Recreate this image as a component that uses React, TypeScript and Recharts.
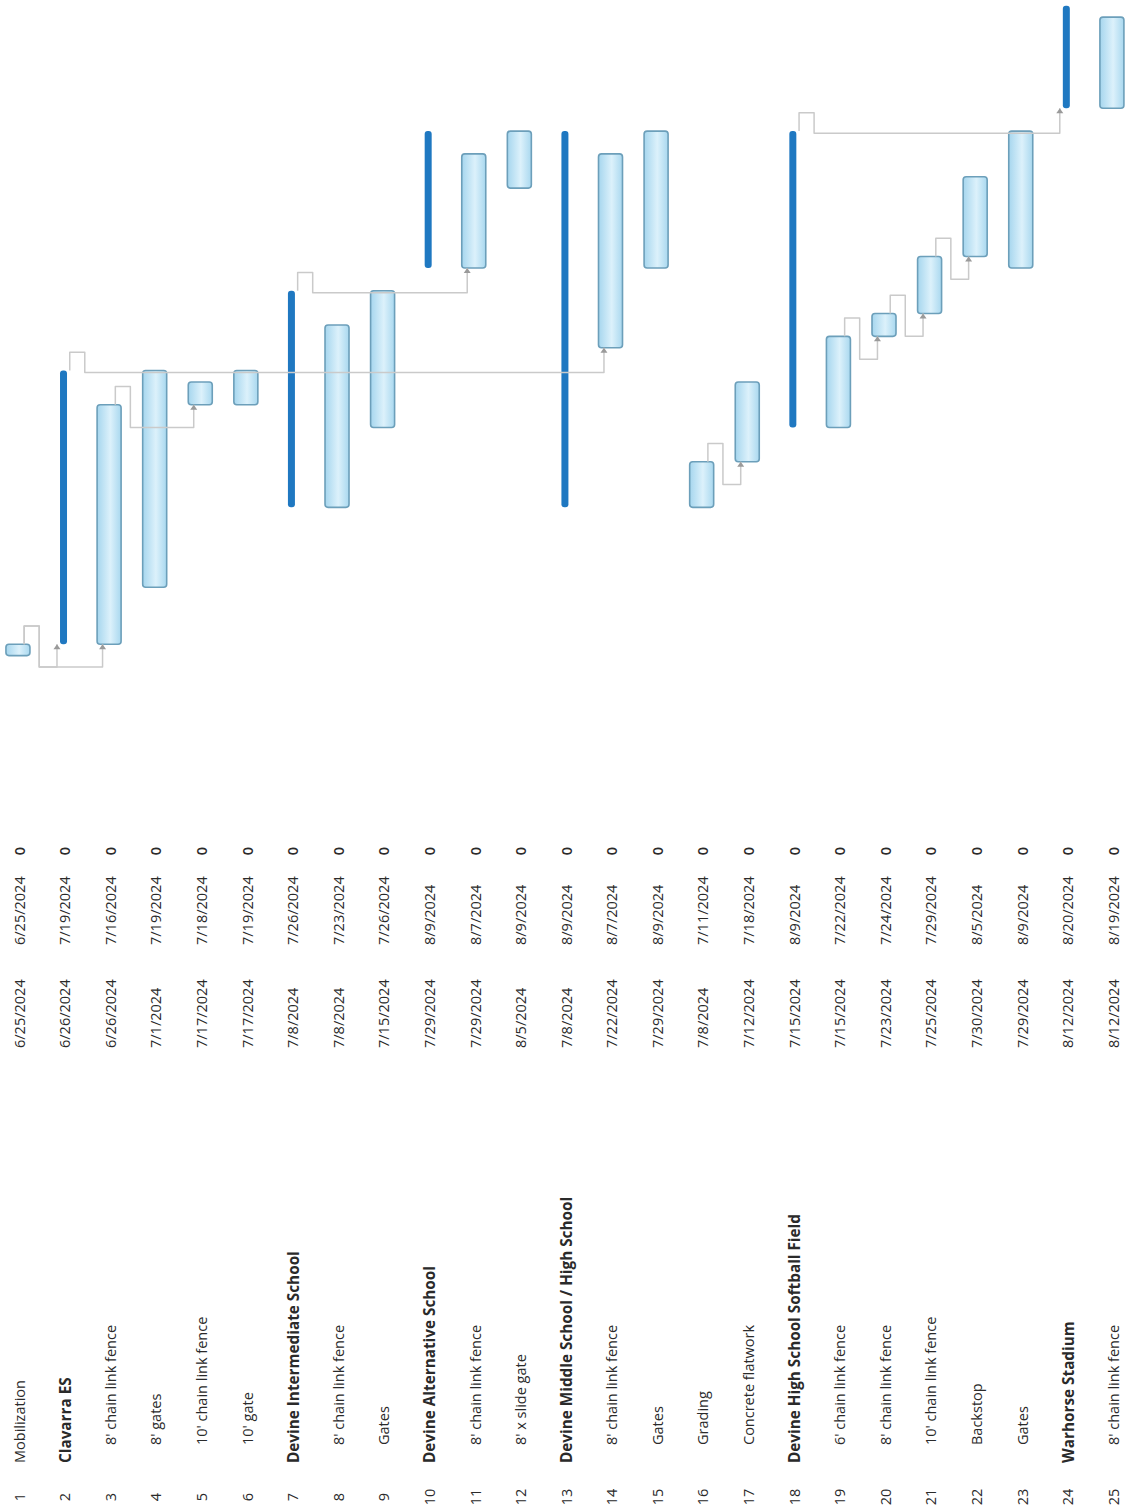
import React from "react"
import { ComposedChart, Bar, Line, XAxis, YAxis } from "recharts"

const W = 1135
const H = 1511
const TABLE_H = 730

const ids = [1, 2, 3, 4, 5, 6, 7, 8, 9, 10, 11, 12, 13, 14, 15, 16, 17, 18, 19, 20, 21, 22, 23, 24, 25]
const names = [
  "Mobilization",
  "Clavarra ES",
  "8' chain link fence",
  "8' gates",
  "10' chain link fence",
  "10' gate",
  "Devine Intermediate School",
  "8' chain link fence",
  "Gates",
  "Devine Alternative School",
  "8' chain link fence",
  "8' x slide gate",
  "Devine Middle School / High School",
  "8' chain link fence",
  "Gates",
  "Grading",
  "Concrete flatwork",
  "Devine High School Softball Field",
  "6' chain link fence",
  "8' chain link fence",
  "10' chain link fence",
  "Backstop",
  "Gates",
  "Warhorse Stadium",
  "8' chain link fence",
]
const starts = [
  "6/25/2024", "6/26/2024", "6/26/2024", "7/1/2024", "7/17/2024", "7/17/2024", "7/8/2024", "7/8/2024",
  "7/15/2024", "7/29/2024", "7/29/2024", "8/5/2024", "7/8/2024", "7/22/2024", "7/29/2024", "7/8/2024",
  "7/12/2024", "7/15/2024", "7/15/2024", "7/23/2024", "7/25/2024", "7/30/2024", "7/29/2024", "8/12/2024",
  "8/12/2024",
]
const finishes = [
  "6/25/2024", "7/19/2024", "7/16/2024", "7/19/2024", "7/18/2024", "7/19/2024", "7/26/2024", "7/23/2024",
  "7/26/2024", "8/9/2024", "8/7/2024", "8/9/2024", "8/9/2024", "8/7/2024", "8/9/2024", "7/11/2024",
  "7/18/2024", "8/9/2024", "7/22/2024", "7/24/2024", "7/29/2024", "8/5/2024", "8/9/2024", "8/20/2024",
  "8/19/2024",
]
const values = [0, 0, 0, 0, 0, 0, 0, 0, 0, 0, 0, 0, 0, 0, 0, 0, 0, 0, 0, 0, 0, 0, 0, 0, 0]
const summaryIds = [2, 7, 10, 13, 18, 24]
const topLevelIds = [1, 2, 7, 10, 13, 18, 24]
// finish-to-start links: [predecessor, successor]
const links = [
  [1, 2], [1, 3], [3, 5], [2, 14], [7, 11], [16, 17], [19, 20], [20, 21], [21, 22], [18, 24],
]

const BAR_STROKE = "#6c9fba"
const SUMMARY = "#1f78c1"
const LINK = "#cacaca"
const TEXT = "#2a2a2a"
const FONT = "'Open Sans', 'Noto Sans', sans-serif"

const dayOf = (s: string) => {
  const [m, d, y] = s.split("/").map(Number)
  return Math.round((Date.UTC(y, m - 1, d) - Date.UTC(2024, 5, 25)) / 86400000)
}

const rows = ids.map((id, i) => ({
  x: id,
  start: dayOf(starts[i]),
  end: dayOf(finishes[i]) + 1,
  range: [dayOf(starts[i]), dayOf(finishes[i]) + 1],
  summary: summaryIds.includes(id),
}))

const linkPaths = links.map(([p, s]) => {
  const pr = rows[p - 1]
  const sr = rows[s - 1]
  const yLine = Math.min(pr.end - 0.18, sr.start - 2)
  return [
    { x: p + 0.13, y: pr.end },
    { x: p + 0.13, y: pr.end + 1.6 },
    { x: p + 0.46, y: pr.end + 1.6 },
    { x: p + 0.46, y: yLine },
    { x: s - 0.15, y: yLine },
    { x: s - 0.15, y: sr.start },
  ]
})

function TaskShape(props: any) {
  const { x, y, width, height, payload } = props
  const top = Math.min(y, y + height)
  const h = Math.abs(height)
  const cx = x + width / 2
  if (payload.summary) {
    return <rect x={cx - 3.5} y={top} width={7} height={h} rx={3} fill={SUMMARY} />
  }
  return (
    <rect
      x={cx - 12}
      y={top}
      width={24}
      height={h}
      rx={3}
      fill="url(#taskFill)"
      stroke={BAR_STROKE}
      strokeWidth={1.6}
    />
  )
}

function TableRow(props: any) {
  const { x, payload } = props
  const i = payload.value - 1
  if (i < 0 || i >= ids.length) return <g />
  const bold = summaryIds.includes(ids[i])
  const nameY = topLevelIds.includes(ids[i]) ? H - 48 : H - 66
  const cell = (y: number, txt: string | number, anchor: string, weight = 500, size = 14.5) => (
    <text
      transform={`translate(0,${y}) rotate(-90)`}
      textAnchor={anchor}
      dominantBaseline="central"
      fontSize={size}
      fontWeight={weight}
      fill={TEXT}
      fontFamily={FONT}
    >
      {txt}
    </text>
  )
  return (
    <g transform={`translate(${x + 1},0)`}>
      {cell(H - 14, ids[i], "middle")}
      {cell(nameY, names[i], "start", bold ? 700 : 500, bold ? 15.3 : 14.5)}
      {cell(H - 463, starts[i], "start")}
      {cell(H - 566, finishes[i], "start")}
      {cell(H - 660, values[i], "middle", 600)}
    </g>
  )
}

function Arrow(props: any, last: number) {
  const { cx, cy, index } = props
  if (index !== last) return <g key={index} />
  return (
    <polygon
      key={index}
      points={`${cx},${cy} ${cx - 3.5},${cy + 5} ${cx + 3.5},${cy + 5}`}
      fill="#9a9a9a"
    />
  )
}

export default function App() {
  return (
    <div style={{ position: "absolute", left: 0, top: 0, width: W, height: H, background: "#fff" }}>
      <ComposedChart width={W} height={H} data={rows} margin={{ top: 0, right: 0, bottom: 0, left: 0 }}>
        <defs>
          <linearGradient id="taskFill" x1="0" y1="0" x2="1" y2="0">
            <stop offset="0%" stopColor="#a6d6ee" />
            <stop offset="55%" stopColor="#dcf1fb" />
            <stop offset="100%" stopColor="#a9d8ef" />
          </linearGradient>
        </defs>
        <XAxis
          dataKey="x"
          type="number"
          domain={[0.6, 25.5]}
          ticks={ids}
          interval={0}
          height={TABLE_H}
          axisLine={false}
          tickLine={false}
          allowDataOverflow
          tick={(p: any) => <TableRow {...p} />}
        />
        <YAxis type="number" domain={[-11, 57.5]} hide allowDataOverflow />
        {linkPaths.map((pts, k) => (
          <Line
            key={k}
            data={pts}
            dataKey="y"
            type="linear"
            stroke={LINK}
            strokeWidth={1.5}
            strokeLinejoin="round"
            dot={(p: any) => Arrow(p, pts.length - 1)}
            activeDot={false}
            isAnimationActive={false}
          />
        ))}
        <Bar dataKey="range" barSize={24} shape={TaskShape} isAnimationActive={false} />
      </ComposedChart>
    </div>
  )
}
